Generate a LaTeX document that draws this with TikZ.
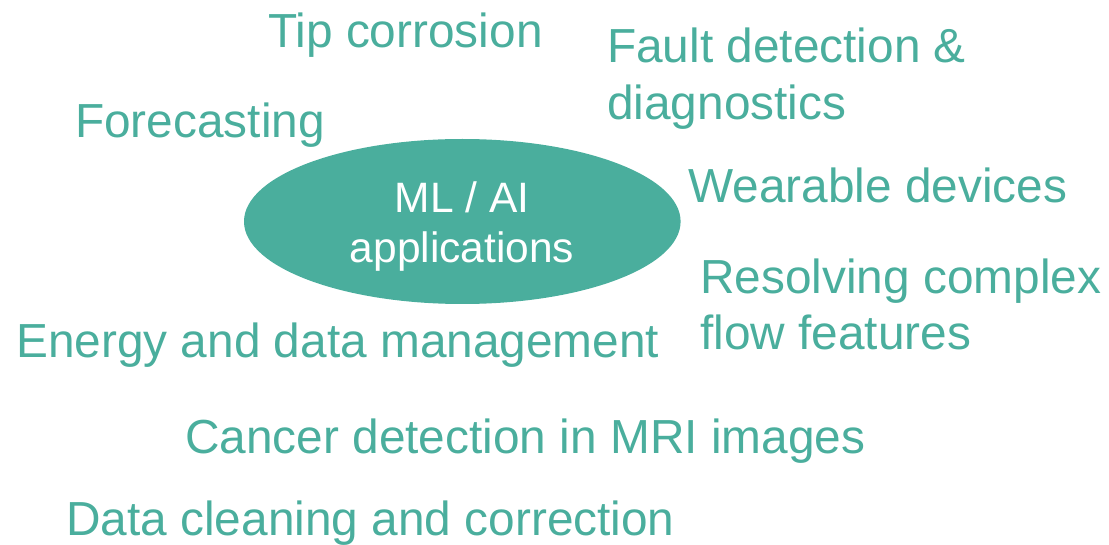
\documentclass[tikz,border=0pt]{standalone}
\usepackage{fontspec}
\setmainfont{Liberation Sans}
\usetikzlibrary{shapes.geometric}
\definecolor{teal}{RGB}{74,174,157}
\tikzset{
  topic/.style={anchor=base west, inner sep=0pt, text=teal, align=left,
    font=\fontsize{47.8}{56.5}\selectfont},
  hub/.style={ellipse, fill=teal, draw=none, inner sep=0pt,
    minimum width=436.6pt, minimum height=165pt},
  hubtext/.style={anchor=base, inner sep=0pt, text=white, align=center,
    font=\fontsize{42.5}{50}\selectfont}
}
\begin{document}
\begin{tikzpicture}[x=1pt, y=-1pt]
  \useasboundingbox (0,0) rectangle (1109,545);
  % central ellipse; multi-line nodes are placed by their last baseline
  \node[hub] (core) at (462.3,221.5) {};
  \node[hubtext] (coretext) at (462,263) {ML / AI\\applications};
  % surrounding application areas
  \node[topic] (tip) at (268,48) {Tip corrosion};
  \node[topic] (fault) at (607,119.5) {Fault detection \&\\diagnostics};
  \node[topic] (fore) at (75,138) {Forecasting};
  \node[topic] (wear) at (688,203) {Wearable devices};
  \node[topic] (flow) at (700,350) {Resolving complex\\flow features};
  \node[topic] (energy) at (16,358) {Energy and data management};
  \node[topic] (mri) at (185,453) {Cancer detection in MRI images};
  \node[topic] (clean) at (66,535) {Data cleaning and correction};
\end{tikzpicture}
\end{document}
